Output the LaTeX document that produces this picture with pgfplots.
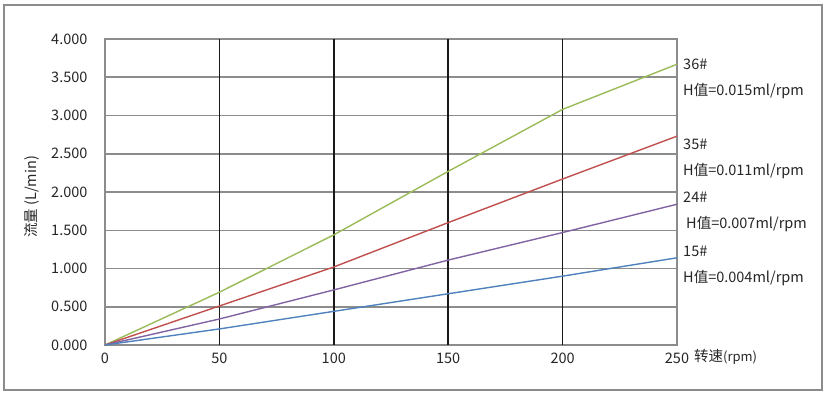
\documentclass[border=0pt]{standalone}
\usepackage{fontspec}
\setmainfont{Noto Sans CJK SC}
\usepackage{pgfplots}
\pgfplotsset{compat=1.18}
\definecolor{lgreen}{HTML}{9BBB59}
\definecolor{lred}{HTML}{C0504D}
\definecolor{lpurple}{HTML}{8064A2}
\definecolor{lblue}{HTML}{4F81BD}
\definecolor{gridgray}{HTML}{8C8C8C}
\begin{document}
\begin{tikzpicture}[x=1pt,y=1pt]
\path (0,0) rectangle (830,397);
\draw[gridgray, line width=1.2pt] (4,7) rectangle (822,392);
\begin{axis}[
  at={(105pt,52pt)}, anchor=south west,
  scale only axis, width=572pt, height=306pt,
  xmin=0, xmax=250, ymin=0, ymax=4,
  xtick={0,50,100,150,200,250},
  ytick={0,0.5,1,1.5,2,2.5,3,3.5,4},
  /pgf/number format/assume math mode=true,
  yticklabel={\pgfmathprintnumber[fixed,fixed zerofill,precision=3]{\tick}},
  xticklabel={\pgfmathprintnumber[fixed,precision=0]{\tick}},
  ticklabel style={font=\fontsize{14.5}{16}\selectfont, text=black!85},
  yticklabel style={xshift=-14pt},
  xticklabel style={yshift=-4pt},
  major tick length=0pt,
  axis line style={gridgray, line width=1.5pt},
  ymajorgrids, major y grid style={gridgray, line width=1.5pt},
  every axis plot/.append style={line width=1.4pt, mark=none},
  clip=false,
]
\foreach \xx in {50,100,150,200} {
  \edef\tmp{\noexpand\draw[black!90, line width=1.6pt] (axis cs:\xx,0) -- (axis cs:\xx,4);}
  \tmp
}
\addplot[lgreen] coordinates {(0,0) (50,0.69) (100,1.44) (150,2.27) (200,3.08) (250,3.67)};
\addplot[lred] coordinates {(0,0) (50,0.51) (100,1.02) (150,1.60) (200,2.17) (250,2.73)};
\addplot[lpurple] coordinates {(0,0) (50,0.34) (100,0.72) (150,1.11) (200,1.47) (250,1.84)};
\addplot[lblue] coordinates {(0,0) (50,0.21) (100,0.44) (150,0.67) (200,0.90) (250,1.14)};
\end{axis}
\begin{scope}[every node/.style={anchor=west, inner sep=0pt, font=\fontsize{14.5}{16}\selectfont, text=black!85}]
\node at (683,333) {36\#};
\node at (683,306) {H值=0.015ml/rpm};
\node at (683,253) {35\#};
\node at (683,226) {H值=0.011ml/rpm};
\node at (683,200) {24\#};
\node at (686,173) {H值=0.007ml/rpm};
\node at (683,146) {15\#};
\node at (683,119) {H值=0.004ml/rpm};
\node at (694,40) {转速{\fontsize{13}{14}\selectfont(rpm)}};
\end{scope}
\node[rotate=90, font=\fontsize{14.5}{16}\selectfont, text=black!85, inner sep=0pt] at (32,200) {流量 (L/min)};
\end{tikzpicture}
\end{document}
